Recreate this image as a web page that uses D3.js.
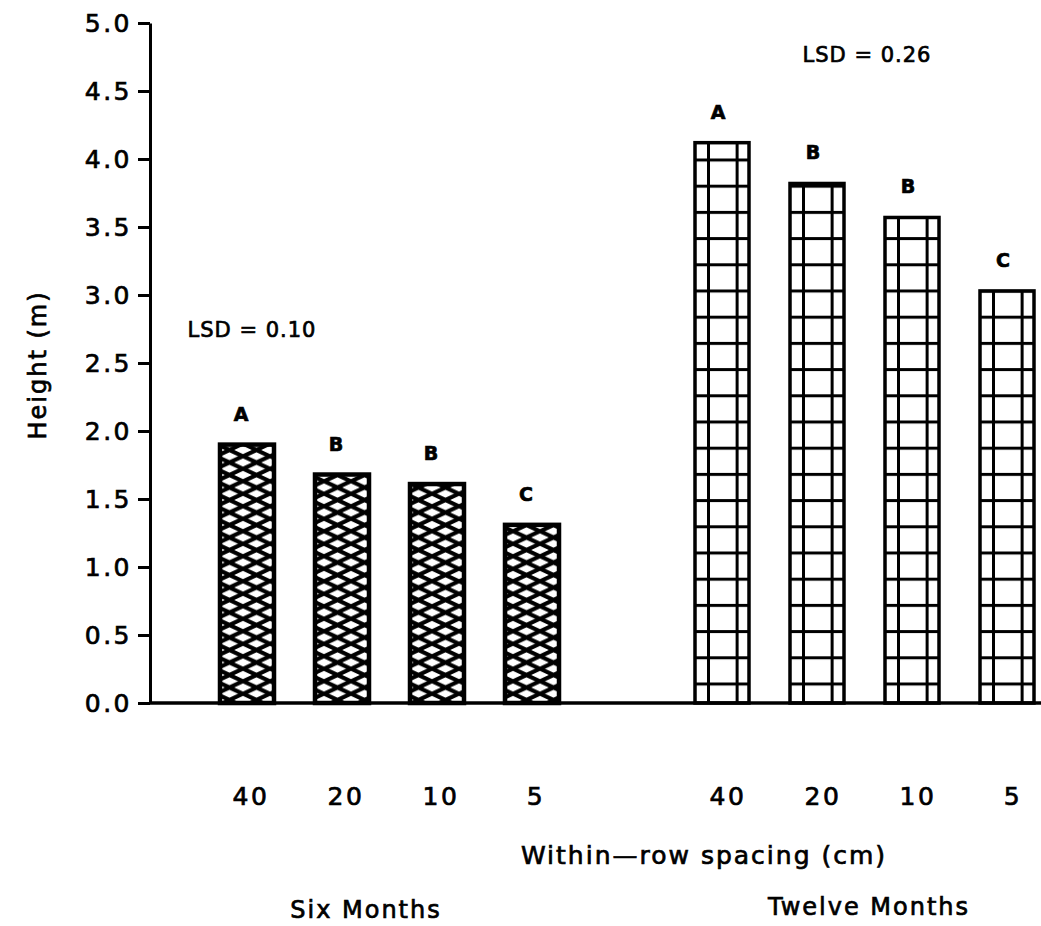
<!DOCTYPE html>
<html>
<head>
<meta charset="utf-8">
<script src="https://cdn.jsdelivr.net/npm/d3@7"></script>
<style>
body { margin: 0; background: #fff; }
text { font-family: "DejaVu Sans", sans-serif; fill: #000; stroke: #000; stroke-width: 0.7px; }
</style>
</head>
<body>
<div id="chart"></div>
<script>
const spacings = ["40", "20", "10", "5"];
const sixMonths = [1.9, 1.68, 1.61, 1.31];
const twelveMonths = [4.12, 3.82, 3.57, 3.03];
const sixLetters = ["A", "B", "B", "C"];
const twelveLetters = ["A", "B", "B", "C"];
const groupNames = ["Six Months", "Twelve Months"];
const lsdValues = ["0.10", "0.26"];
const yTicks = [0, 0.5, 1.0, 1.5, 2.0, 2.5, 3.0, 3.5, 4.0, 4.5, 5.0];

const width = 1041;
const height = 926;

const svg = d3.select("#chart")
    .append("svg")
    .attr("width", width)
    .attr("height", height);

const y = d3.scaleLinear().domain([0, 5]).range([703, 23]);
// 9 slots, slot 4 is the gap between the two groups
const x = d3.scalePoint().domain(d3.range(9)).range([247, 1007]);
const barW = 54;

// bars as one list
var bars = [];
sixMonths.forEach((v, i) => bars.push({group: 0, slot: i, value: v, letter: sixLetters[i], label: spacings[i]}));
twelveMonths.forEach((v, i) => bars.push({group: 1, slot: i + 5, value: v, letter: twelveLetters[i], label: spacings[i]}));

const defs = svg.append("defs");

// crosshatch for six months
const cross = defs.append("pattern")
    .attr("id", "cross")
    .attr("patternUnits", "userSpaceOnUse")
    .attr("width", 27)
    .attr("height", 12.5);
cross.append("path")
    .attr("d", "M0,6.25 L13.5,0 L27,6.25 L13.5,12.5 Z")
    .attr("fill", "none")
    .attr("stroke", "#000")
    .attr("stroke-width", 4);

// horizontal lines for twelve months
const grid = defs.append("pattern")
    .attr("id", "grid")
    .attr("patternUnits", "userSpaceOnUse")
    .attr("width", 20)
    .attr("height", 26.2)
    .attr("y", y(0) - 20.5);
grid.append("line")
    .attr("x1", 0).attr("x2", 20)
    .attr("y1", 1.5).attr("y2", 1.5)
    .attr("stroke", "#000")
    .attr("stroke-width", 3);

svg.selectAll("rect.bar")
    .data(bars)
    .enter()
    .append("rect")
    .attr("class", "bar")
    .attr("x", d => x(d.slot) - barW / 2)
    .attr("y", d => y(d.value))
    .attr("width", barW)
    .attr("height", d => y(0) - y(d.value))
    .attr("fill", d => d.group == 0 ? "url(#cross)" : "url(#grid)")
    .attr("stroke", "#000")
    .attr("stroke-width", d => d.group == 0 ? 4.5 : 3.5);

// vertical grid lines inside the twelve month bars
const twelveBars = bars.filter(d => d.group == 1);
[0.25, 0.78].forEach(f => {
    svg.selectAll(null)
        .data(twelveBars)
        .enter()
        .append("line")
        .attr("x1", d => x(d.slot) - barW / 2 + barW * f)
        .attr("x2", d => x(d.slot) - barW / 2 + barW * f)
        .attr("y1", d => y(d.value))
        .attr("y2", y(0))
        .attr("stroke", "#000")
        .attr("stroke-width", 3);
});

// significance letters
svg.selectAll("text.letter")
    .data(bars)
    .enter()
    .append("text")
    .attr("class", "letter")
    .attr("x", d => x(d.slot) + (d.group == 0 ? -6 : -4))
    .attr("y", d => y(d.value) - 24)
    .attr("text-anchor", "middle")
    .style("font-size", "19px")
    .style("font-weight", "bold")
    .text(d => d.letter);

// y axis
const yAxis = svg.append("g")
    .attr("transform", "translate(150,0)")
    .call(d3.axisLeft(y).tickValues(yTicks).tickFormat(d3.format(".1f")).tickSize(12).tickSizeOuter(0).tickPadding(6));
yAxis.select(".domain").attr("stroke-width", 3);
yAxis.selectAll(".tick line").attr("stroke-width", 3);
yAxis.selectAll(".tick text")
    .style("font-size", "25px")
    .style("letter-spacing", "2.5px")
    .attr("fill", "#000");

// x baseline
svg.append("line")
    .attr("x1", 150).attr("x2", width)
    .attr("y1", y(0)).attr("y2", y(0))
    .attr("stroke", "#000")
    .attr("stroke-width", 3.5);

// spacing labels
svg.selectAll("text.xlab")
    .data(bars)
    .enter()
    .append("text")
    .attr("class", "xlab")
    .attr("x", d => x(d.slot) + (d.group == 0 ? 4 : 6))
    .attr("y", 805)
    .attr("text-anchor", "middle")
    .style("font-size", "25px")
    .style("letter-spacing", "2.5px")
    .text(d => d.label);

svg.append("text")
    .attr("x", 704)
    .attr("y", 864)
    .attr("text-anchor", "middle")
    .style("font-size", "25px")
    .style("letter-spacing", "2px")
    .text("Within\u2014row spacing (cm)");

svg.append("text")
    .attr("x", 366)
    .attr("y", 918)
    .attr("text-anchor", "middle")
    .style("font-size", "24px")
    .style("letter-spacing", "2px")
    .text(groupNames[0]);

svg.append("text")
    .attr("x", 869)
    .attr("y", 915)
    .attr("text-anchor", "middle")
    .style("font-size", "24px")
    .style("letter-spacing", "2px")
    .text(groupNames[1]);

svg.append("text")
    .attr("transform", "translate(46,365) rotate(-90)")
    .attr("text-anchor", "middle")
    .style("font-size", "24px")
    .style("letter-spacing", "2px")
    .text("Height (m)");

svg.append("text")
    .attr("x", 252)
    .attr("y", 337)
    .attr("text-anchor", "middle")
    .style("font-size", "21px")
    .style("letter-spacing", "1px")
    .text("LSD = " + lsdValues[0]);

svg.append("text")
    .attr("x", 867)
    .attr("y", 62)
    .attr("text-anchor", "middle")
    .style("font-size", "21px")
    .style("letter-spacing", "1px")
    .text("LSD = " + lsdValues[1]);
</script>
</body>
</html>
